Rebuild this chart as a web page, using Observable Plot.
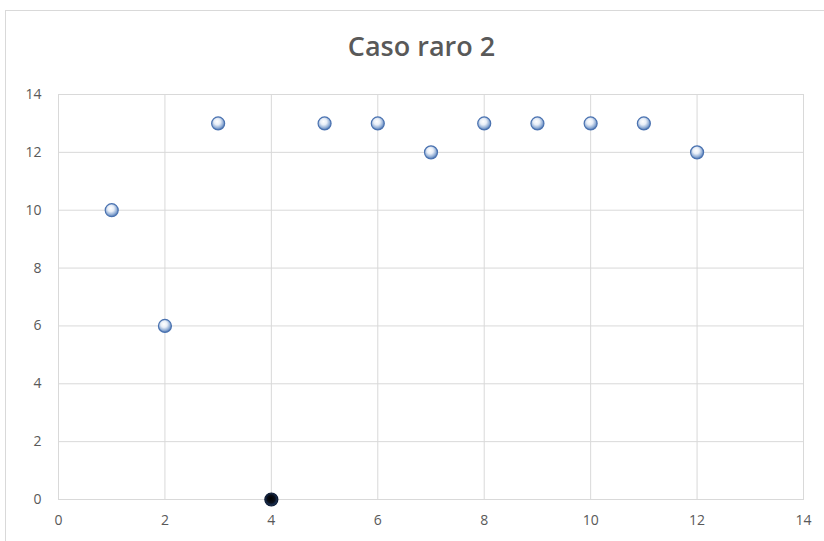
<!DOCTYPE html>
<html>
<head>
<meta charset="utf-8">
<script src="https://cdn.jsdelivr.net/npm/d3@7"></script>
<script src="https://cdn.jsdelivr.net/npm/@observablehq/plot@0.6"></script>
<style>
  html, body { margin: 0; padding: 0; background: #fff; }
  #wrap { position: relative; width: 824px; height: 541px; overflow: hidden; font-family: "Open Sans", sans-serif; }
  #frame { position: absolute; left: 5px; top: 10px; width: 840px; height: 600px; border: 1px solid #d9d9d9; box-sizing: border-box; }
  #title { position: relative; box-sizing: border-box; height: 84px; margin: 0; padding-top: 8px; padding-left: 19px; text-align: center; font-size: 27px; font-weight: 600; color: #595959; line-height: 76px; }
  #title span { display: inline-block; transform: scaleX(1.0); }
  #chart { position: relative; }
</style>
</head>
<body>
<div id="wrap">
  <div id="frame"></div>
  <h2 id="title"><span>Caso raro 2</span></h2>
  <div id="chart"></div>
</div>
<script>
const xValues = [1, 2, 3, 4, 5, 6, 7, 8, 9, 10, 11, 12];
const yValues = [10, 6, 13, 0, 13, 13, 12, 13, 13, 13, 13, 12];
const xTicks = [0, 2, 4, 6, 8, 10, 12, 14];
const yTicks = [0, 2, 4, 6, 8, 10, 12, 14];

const points = xValues.map((x, i) => ({x, y: yValues[i]}));

const plot = Plot.plot({
  width: 824,
  height: 457,
  marginLeft: 58,
  marginRight: 21,
  marginTop: 10,
  marginBottom: 42,
  style: {fontFamily: "'Open Sans', sans-serif", fontSize: "14px", color: "#595959", overflow: "visible"},
  x: {domain: [0, 14], ticks: xTicks, label: null},
  y: {domain: [0, 14], ticks: yTicks, label: null},
  marks: [
    Plot.gridX(xTicks, {stroke: "#d9d9d9", strokeOpacity: 1}),
    Plot.gridY(yTicks, {stroke: "#d9d9d9", strokeOpacity: 1}),
    Plot.frame({stroke: "#d9d9d9"}),
    Plot.axisX({ticks: xTicks, tickSize: 0, tickPadding: 16, fill: "#595959"}),
    Plot.axisY({ticks: yTicks, tickSize: 0, tickPadding: 17, fill: "#595959"}),
    Plot.dot(points, {
      x: "x", y: "y", r: 6.5,
      fill: d => d.y === 0 ? "url(#gDark)" : "url(#gLight)",
      stroke: d => d.y === 0 ? "#0c1a33" : "#4a72b0",
      strokeWidth: 1.2
    })
  ]
});

const ns = "http://www.w3.org/2000/svg";
const defs = document.createElementNS(ns, "defs");
defs.innerHTML = `
  <radialGradient id="gLight" cx="0.45" cy="0.4" r="0.6" fx="0.42" fy="0.35">
    <stop offset="0" stop-color="#ffffff"/>
    <stop offset="0.4" stop-color="#e8eef7"/>
    <stop offset="0.75" stop-color="#93afd6"/>
    <stop offset="1" stop-color="#4f77b2"/>
  </radialGradient>
  <radialGradient id="gDark" cx="0.5" cy="0.5" r="0.6" fx="0.45" fy="0.4">
    <stop offset="0" stop-color="#000000"/>
    <stop offset="0.5" stop-color="#0a0f1a"/>
    <stop offset="0.85" stop-color="#1f3b66"/>
    <stop offset="1" stop-color="#2d5590"/>
  </radialGradient>`;
plot.insertBefore(defs, plot.firstChild);
document.getElementById("chart").appendChild(plot);
</script>
</body>
</html>
